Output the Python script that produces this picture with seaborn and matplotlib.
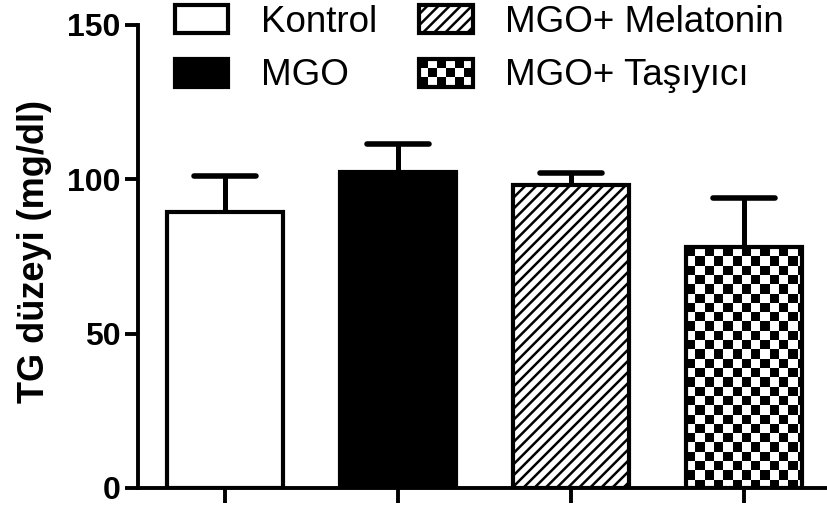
import matplotlib
matplotlib.use("Agg")
import matplotlib.pyplot as plt
from matplotlib.legend_handler import HandlerBase
from matplotlib.patches import Rectangle
import numpy as np
import seaborn as sns

# values
groups = ["Kontrol", "MGO", "MGO+ Melatonin", "MGO+ Taşıyıcı"]
tg_mean = [89.5, 102.5, 98.0, 78.0]
tg_err = [11.5, 9.0, 4.0, 16.0]
yticks = [0, 50, 100, 150]

sns.set_style("ticks")
plt.rcParams["font.family"] = ["Liberation Sans", "DejaVu Sans"]
plt.rcParams["hatch.linewidth"] = 1.8
for key in ("text.color", "axes.labelcolor", "axes.edgecolor",
            "xtick.color", "ytick.color"):
    plt.rcParams[key] = "black"

CELL_PX = 9.3  # checkerboard cell size in pixels


def checker_array(nrows, ncols):
    return (np.add.outer(np.arange(nrows), np.arange(ncols)) % 2).astype(float)


class CheckerHandler(HandlerBase):
    """Legend key drawn as a small checkerboard."""

    def create_artists(self, legend, orig_handle, xdescent, ydescent,
                       width, height, fontsize, trans):
        ncols = 6
        cell = width / ncols
        nrows = max(1, int(round(height / cell)))
        ch = height / nrows
        x0, y0 = -xdescent, -ydescent
        arts = [Rectangle((x0, y0), width, height, facecolor="white",
                          edgecolor="none", transform=trans)]
        for r in range(nrows):
            for c in range(ncols):
                if (r + c) % 2 == 0:
                    arts.append(Rectangle((x0 + c * cell, y0 + r * ch), cell, ch,
                                          facecolor="black", edgecolor="none",
                                          transform=trans))
        arts.append(Rectangle((x0, y0), width, height, facecolor="none",
                              edgecolor="black", lw=3, transform=trans))
        return arts


fig = plt.figure(figsize=(8.27, 5.08), dpi=100)
ax = fig.add_axes([0.1669, 0.0394, 0.8331, 0.9114])

sns.barplot(x=groups, y=tg_mean, hue=groups,
            palette=["white", "black", "white", "white"], legend=False,
            width=0.67, edgecolor="black", linewidth=3, saturation=1, ax=ax)
bars = sorted(ax.patches, key=lambda p: p.get_x())
bars[2].set_hatch("///")

# upward-only error bars
xpos = np.arange(len(groups))
tops = np.array(tg_mean) + np.array(tg_err)
ax.vlines(xpos, tg_mean, tops, color="black", lw=3.6, zorder=3)
ax.hlines(tops, xpos - 0.18, xpos + 0.18, color="black", lw=4,
          capstyle="round", zorder=3)

xlim = (-0.503, 3.48)
ax.set_xlim(xlim)
ax.set_ylim(0, 150)

# checkerboard fill for the last bar
bar = bars[3]
bx, bw, bh = bar.get_x(), bar.get_width(), bar.get_height()
px0, py0 = ax.transData.transform((bx, 0))
px1, py1 = ax.transData.transform((bx + bw, bh))
ncols = int(np.ceil((px1 - px0) / CELL_PX))
nrows = int(np.ceil((py1 - py0) / CELL_PX))
dx = CELL_PX / (px1 - px0) * bw
dy = CELL_PX / (py1 - py0) * bh
im = ax.imshow(checker_array(nrows, ncols), cmap="gray", origin="upper",
               extent=(bx, bx + ncols * dx, bh - nrows * dy, bh),
               aspect="auto", interpolation="nearest", zorder=0.5)
im.set_clip_path(bar)
bar.set_facecolor("none")

ax.set_xlim(xlim)
ax.set_ylim(0, 150)
ax.set_yticks(yticks)
ax.set_xticks(xpos, [""] * len(groups))
ax.set_xlabel("")
sns.despine(ax=ax)
for side in ("left", "bottom"):
    ax.spines[side].set_linewidth(2.8)
    ax.spines[side].set_color("black")
ax.tick_params(axis="y", length=9.4, width=2.8, pad=3, labelsize=23)
ax.tick_params(axis="x", length=10.8, width=2.8)
for lbl in ax.get_yticklabels():
    lbl.set_fontweight("bold")
ax.set_ylabel("TG düzeyi (mg/dl)", fontsize=26, fontweight="bold")
ax.yaxis.set_label_coords(-0.125, 0.51)

fig.legend(bars, groups, handler_map={bars[3]: CheckerHandler()}, ncol=2,
           loc="upper left", bbox_to_anchor=(0.2116, 0.99), frameon=False,
           fontsize=26.5, handlelength=1.45, handleheight=0.78,
           handletextpad=0.88, columnspacing=1.15, labelspacing=0.5,
           borderpad=0, borderaxespad=0)

fig.savefig("out.png", dpi=100)
